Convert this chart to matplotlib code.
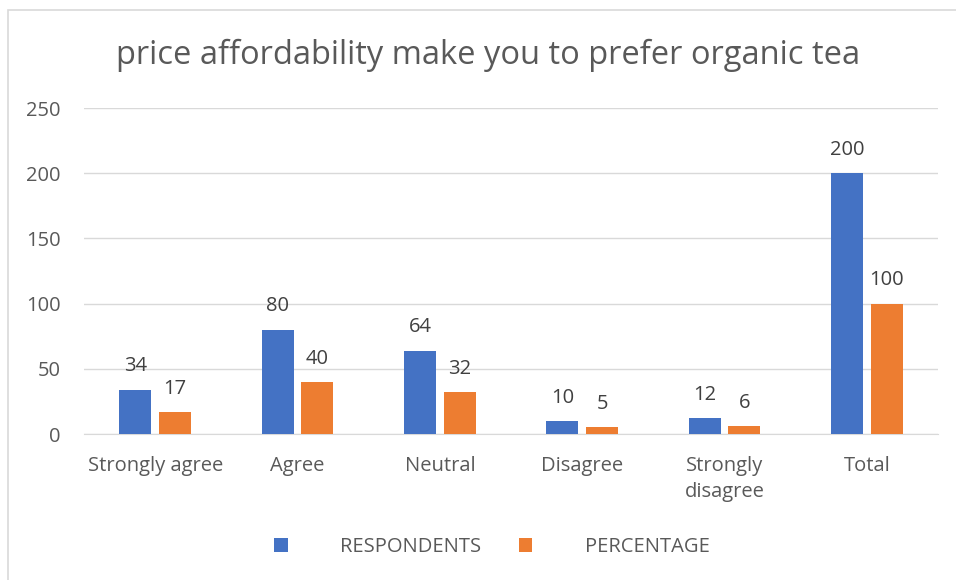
import matplotlib.pyplot as plt
import matplotlib.patches as mpatches
import numpy as np

categories = ["Strongly agree", "Agree", "Neutral", "Disagree", "Strongly\ndisagree", "Total"]
respondents = [34, 80, 64, 10, 12, 200]
percentage = [17, 40, 32, 5, 6, 100]

blue = "#4472c4"
orange = "#ed7d31"
grid_col = "#d9d9d9"
txt_col = "#595959"

plt.rcParams['font.family'] = ['Open Sans', 'DejaVu Sans']

fig = plt.figure(figsize=(9.56, 5.8), dpi=100)
ax = fig.add_axes([84 / 956, 1 - 434 / 580, (938 - 84) / 956, (434 - 108) / 580])

# chart border
fig.patches.append(mpatches.Rectangle((8 / 956, -0.1), 1.2, 1 - 10 / 580 + 0.1,
                                      transform=fig.transFigure, fill=False,
                                      edgecolor=grid_col, linewidth=1.2))

x = np.arange(len(categories))
w = 0.225
off = 0.14
b1 = ax.bar(x - off, respondents, w, color=blue, label="RESPONDENTS", zorder=3)
b2 = ax.bar(x + off, percentage, w, color=orange, label="PERCENTAGE", zorder=3)

for bars, vals in ((b1, respondents), (b2, percentage)):
    for rect, v in zip(bars, vals):
        ax.annotate(str(v), (rect.get_x() + rect.get_width() / 2, v),
                    xytext=(0, 9.5), textcoords="offset points",
                    ha="center", va="bottom", fontsize=14.5, color="#404040")

ax.set_xlim(-0.5, 5.5)
ax.set_ylim(0, 250)
ax.set_yticks(range(0, 251, 50))
ax.yaxis.grid(True, color=grid_col, linewidth=1)
ax.set_axisbelow(True)
for s in ("top", "right", "left"):
    ax.spines[s].set_visible(False)
ax.spines["bottom"].set_color(grid_col)
ax.tick_params(length=0, labelsize=14.5, labelcolor=txt_col)
ax.tick_params(axis="y", pad=17)
ax.tick_params(axis="x", pad=16)
ax.set_xticks(x)
ax.set_xticklabels(categories, va="top", linespacing=1.4)

fig.text(488 / 956, 1 - 55 / 580, "price affordability make you to prefer organic tea",
         ha="center", va="center", fontsize=23.5, color=txt_col)

fig.legend(handles=[b1, b2], loc="center", bbox_to_anchor=(492 / 956, 1 - 547 / 580),
           ncol=2, frameon=False, fontsize=14.5, labelcolor=txt_col,
           handlelength=0.65, handleheight=0.65, handletextpad=2.6, columnspacing=1.9)

fig.savefig("out.png", dpi=100)
